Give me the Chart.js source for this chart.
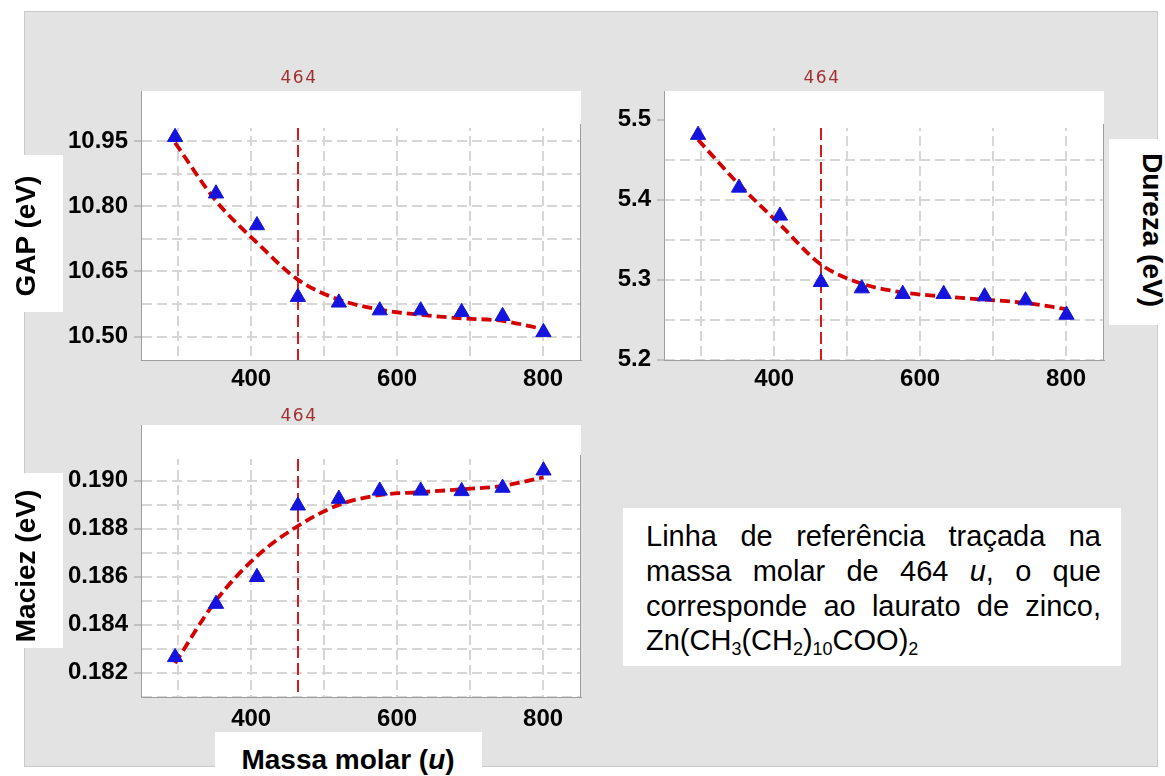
<!DOCTYPE html>
<html>
<head>
<meta charset="utf-8">
<script src="https://cdn.jsdelivr.net/npm/chart.js@4.4.1/dist/chart.umd.min.js"></script>
<style>
  body { margin: 0; width: 1165px; height: 776px; background: #fff; position: relative; overflow: hidden;
         font-family: Arial, "Liberation Sans", sans-serif; }
  #panel { position: absolute; left: 24px; top: 11px; width: 1132px; height: 754px; background: #e3e3e3; border: 1px solid #c9c9c9; }
  canvas { position: absolute; }
  .box { position: absolute; background: #fff; }
  .lab { position: absolute; white-space: nowrap; font-weight: bold; font-size: 28px; color: #000;
         transform: translate(-50%, -50%); line-height: 1; }
  .note { position: absolute; left: 646px; width: 455px; font-size: 29px; color: #000; white-space: nowrap; line-height: 30px; }
  .just { text-align: justify; text-align-last: justify; white-space: normal; }
  .note sub { font-size: 0.62em; vertical-align: -0.3em; line-height: 0; }
</style>
</head>
<body>
<div id="panel"></div>

<canvas id="gapChart" width="560" height="340" style="left:41px;top:60px"></canvas>
<canvas id="durezaChart" width="560" height="340" style="left:564px;top:60px"></canvas>
<canvas id="maciezChart" width="560" height="342" style="left:41px;top:395px"></canvas>

<div class="box" style="left:12px;top:155px;width:51px;height:157px"></div>
<div class="lab" style="left:26px;top:236px;transform:translate(-50%,-50%) rotate(-90deg)">GAP (eV)</div>

<div class="box" style="left:12px;top:473px;width:51px;height:175px"></div>
<div class="lab" style="left:26px;top:566px;transform:translate(-50%,-50%) rotate(-90deg)">Maciez (eV)</div>

<div class="box" style="left:1109px;top:139px;width:56px;height:186px"></div>
<div class="lab" style="left:1152px;top:230px;transform:translate(-50%,-50%) rotate(90deg)">Dureza (eV)</div>

<div class="box" style="left:215px;top:732px;width:267px;height:50px"></div>
<div class="lab" style="left:348px;top:760px">Massa molar (<i>u</i>)</div>

<div class="box" style="left:623px;top:508px;width:498px;height:158px"></div>
<div class="note just" style="top:521px">Linha de referência traçada na</div>
<div class="note just" style="top:556px">massa molar de 464 <i>u</i>, o que</div>
<div class="note just" style="top:591px">corresponde ao laurato de zinco,</div>
<div class="note" style="top:625px">Zn(CH<sub>3</sub>(CH<sub>2</sub>)<sub>10</sub>COO)<sub>2</sub></div>

<script>
// massa molar dos carboxilatos de zinco (u)
const masses = [295.7, 351.8, 407.9, 464.0, 520.1, 576.2, 632.3, 688.4, 744.5, 800.6];
const refMass = 464;

const gapValues = [10.959, 10.829, 10.756, 10.591, 10.578, 10.560, 10.560, 10.556, 10.547, 10.510];
const gapFit = [10.946, 10.812, 10.716, 10.631, 10.585, 10.562, 10.550, 10.542, 10.536, 10.517];

const durezaValues = [5.481, 5.415, 5.380, 5.297, 5.289, 5.282, 5.282, 5.279, 5.274, 5.256];
const durezaFit = [5.475, 5.419, 5.369, 5.319, 5.295, 5.284, 5.279, 5.275, 5.271, 5.263];

const maciezValues = [0.18264, 0.18486, 0.18598, 0.18896, 0.18924, 0.18958, 0.18958, 0.18956, 0.18970, 0.19042];
const maciezFit = [0.18239, 0.18500, 0.18685, 0.18811, 0.18899, 0.18940, 0.18952, 0.18964, 0.18978, 0.19014];

const xGridValues = [300, 400, 500, 600, 700, 800];
const xTickLabels = [400, 600, 800];
const gapTickLabels = [10.50, 10.65, 10.80, 10.95];
const durezaTickLabels = [5.2, 5.3, 5.4, 5.5];
const maciezTickLabels = [0.182, 0.184, 0.186, 0.188, 0.190];

const tickFont = { family: 'Arial, "Liberation Sans", sans-serif', size: 24, weight: 'bold' };
const gridColor = '#d6d6d6';
const axisColor = '#9d9d9d';

function isMajor(list, v) {
    return list.some(m => Math.abs(m - v) < 1e-7);
}

const panelPlugin = {
    id: 'panel',
    beforeDraw(chart) {
        const a = chart.chartArea;
        const ctx = chart.ctx;
        ctx.save();
        ctx.fillStyle = '#fff';
        ctx.fillRect(a.left, a.top, a.right - a.left, a.bottom - a.top);
        ctx.restore();
    },
    beforeDatasetsDraw(chart, args, opts) {
        const a = chart.chartArea;
        const ctx = chart.ctx;
        ctx.save();
        // top band of the panel has no grid
        ctx.fillStyle = '#fff';
        ctx.fillRect(a.left + 1, a.top, a.right - a.left - 1, opts.strip);
        // right frame
        ctx.strokeStyle = axisColor;
        ctx.lineWidth = 1;
        ctx.beginPath();
        ctx.moveTo(a.right - 0.5, a.top + opts.strip - 4);
        ctx.lineTo(a.right - 0.5, a.bottom);
        ctx.stroke();
        // reference line at 464
        const x = Math.round(chart.scales.x.getPixelForValue(refMass));
        ctx.strokeStyle = '#d61a1a';
        ctx.lineWidth = 2;
        ctx.setLineDash([12, 5]);
        ctx.beginPath();
        ctx.moveTo(x, a.top + opts.strip);
        ctx.lineTo(x, a.bottom);
        ctx.stroke();
        ctx.setLineDash([]);
        ctx.fillStyle = '#a33030';
        ctx.font = '17px "DejaVu Sans", sans-serif';
        ctx.letterSpacing = '1.5px';
        ctx.textAlign = 'center';
        ctx.textBaseline = 'middle';
        ctx.fillText(String(refMass), x + 1, a.top + opts.labelDy);
        ctx.restore();
    }
};

function drawPanel(id, values, fit, y) {
    const ctx = document.getElementById(id).getContext('2d');
    new Chart(ctx, {
        type: 'scatter',
        data: {
            datasets: [{
                data: masses.map((m, i) => ({ x: m, y: values[i] })),
                pointStyle: 'triangle',
                pointRadius: 8.8,
                pointBackgroundColor: '#1414dc',
                pointBorderColor: '#1414dc',
                pointBorderWidth: 1,
                showLine: false
            }, {
                data: masses.map((m, i) => ({ x: m, y: fit[i] })),
                showLine: true,
                borderColor: '#d40000',
                borderWidth: 3.8,
                borderDash: [10, 5],
                pointRadius: 0,
                cubicInterpolationMode: 'monotone',
                fill: false
            }]
        },
        options: {
            responsive: false,
            animation: false,
            devicePixelRatio: 1,
            events: [],
            layout: { padding: { top: y.padTop, right: 20, bottom: 0, left: 0 }, autoPadding: false },
            plugins: {
                legend: { display: false },
                tooltip: { enabled: false },
                panel: { strip: y.strip, labelDy: y.labelDy }
            },
            scales: {
                x: {
                    type: 'linear',
                    min: 249,
                    max: 852,
                    afterFit(s) { s.height = 40; },
                    afterBuildTicks(s) { s.ticks = xGridValues.map(v => ({ value: v })); },
                    ticks: {
                        autoSkip: false,
                        maxRotation: 0,
                        padding: y.xPad,
                        color: '#000',
                        font: tickFont,
                        callback: v => xTickLabels.includes(v) ? String(v) : ''
                    },
                    grid: { color: gridColor, lineWidth: 2, drawTicks: false },
                    border: { color: axisColor, width: 1, dash: [10, 5] }
                },
                y: {
                    min: y.min,
                    max: y.max,
                    afterFit(s) { s.width = 100; },
                    ticks: {
                        stepSize: y.step,
                        includeBounds: false,
                        autoSkip: false,
                        padding: 6,
                        color: '#000',
                        font: tickFont,
                        callback: v => isMajor(y.labels, v) ? v.toFixed(y.decimals) : ''
                    },
                    grid: {
                        color: gridColor,
                        lineWidth: 2,
                        tickLength: 7,
                        tickWidth: 1,
                        tickColor: c => (c.tick && isMajor(y.labels, c.tick.value)) ? axisColor : 'rgba(0,0,0,0)'
                    },
                    border: { color: axisColor, width: 1, dash: [10, 5] }
                }
            }
        },
        plugins: [panelPlugin]
    });
}

drawPanel('gapChart', gapValues, gapFit,
    { min: 10.446, max: 11.065, step: 0.075, labels: gapTickLabels, decimals: 2, padTop: 31, strip: 37, labelDy: -12, xPad: 5 });
drawPanel('durezaChart', durezaValues, durezaFit,
    { min: 5.1995, max: 5.536, step: 0.05, labels: durezaTickLabels, decimals: 1, padTop: 31, strip: 37, labelDy: -12, xPad: 5 });
drawPanel('maciezChart', maciezValues, maciezFit,
    { min: 0.18098, max: 0.19232, step: 0.001, labels: maciezTickLabels, decimals: 3, padTop: 30, strip: 34, labelDy: -8, xPad: 8 });
</script>
</body>
</html>
